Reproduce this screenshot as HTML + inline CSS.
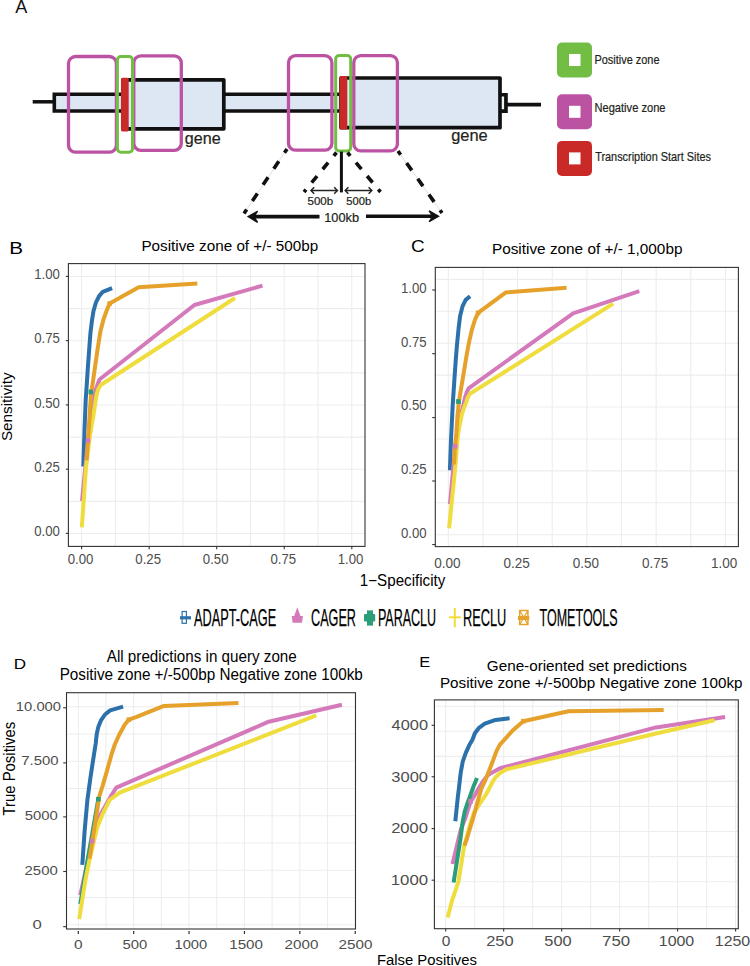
<!DOCTYPE html><html><head><meta charset="utf-8"><style>html,body{margin:0;padding:0;background:#fff;width:750px;height:966px;overflow:hidden}svg{display:block;font-family:"Liberation Sans",sans-serif}</style></head><body>
<svg width="750" height="966" viewBox="0 0 750 966">
<rect width="750" height="966" fill="#fff"/>
<text x="15.16" y="12.8" font-size="18" fill="#111" textLength="12.07" lengthAdjust="spacingAndGlyphs" >A</text>
<line x1="32.7" y1="101.8" x2="54" y2="101.8" stroke="#111111" stroke-width="3.5" />
<path d="M339,94.3 H54.3 V111 H339" fill="#dde7f3" stroke="#111111" stroke-width="3.6"/>
<rect x="122.8" y="79.8" width="101" height="49" fill="#dde7f3" stroke="#111111" stroke-width="3.7" stroke-linejoin="round"/>
<rect x="341" y="78" width="159" height="49.7" fill="#dde7f3" stroke="#111111" stroke-width="3.7" stroke-linejoin="round"/>
<rect x="501.9" y="96.6" width="2.3" height="13.1" fill="#eef3f9"/>
<path d="M500.5,94.75 H505.95 V111.15 H500.5" fill="none" stroke="#111111" stroke-width="3.7"/>
<line x1="506" y1="104.7" x2="541" y2="104.7" stroke="#111111" stroke-width="3.7" />
<rect x="121" y="77.8" width="7.7" height="53.6" rx="1.5" fill="#ca2a27"/>
<rect x="339.6" y="76" width="7.7" height="53.5" rx="1.5" fill="#ca2a27"/>
<rect x="68.5" y="56.5" width="47.900000000000006" height="95.69999999999999" rx="7" fill="none" stroke="#bb52a2" stroke-width="3.3"/>
<rect x="133.8" y="55.9" width="47.5" height="94.4" rx="7" fill="none" stroke="#bb52a2" stroke-width="3.3"/>
<rect x="117.4" y="56.5" width="15.099999999999994" height="95.80000000000001" rx="3.5" fill="none" stroke="#72be44" stroke-width="3"/>
<rect x="288.5" y="55.7" width="43.39999999999998" height="94.49999999999999" rx="7" fill="none" stroke="#bb52a2" stroke-width="3.3"/>
<rect x="353.8" y="55.6" width="43.599999999999966" height="95.30000000000001" rx="7" fill="none" stroke="#bb52a2" stroke-width="3.3"/>
<rect x="335.7" y="55.5" width="15.0" height="95.5" rx="3.5" fill="none" stroke="#72be44" stroke-width="3"/>
<text x="184.82" y="144" font-size="16.3" fill="#231f20" textLength="35.89" lengthAdjust="spacingAndGlyphs" stroke="#231f20" stroke-width="0.22">gene</text>
<text x="451.21" y="141" font-size="16.3" fill="#231f20" textLength="36.52" lengthAdjust="spacingAndGlyphs" stroke="#231f20" stroke-width="0.22">gene</text>
<line x1="287" y1="149" x2="244" y2="213.5" stroke="#c8c8c8" stroke-width="0.6" />
<line x1="287" y1="149" x2="244" y2="213.5" stroke="#111111" stroke-width="3.6" stroke-dasharray="9 10.3" stroke-dashoffset="4.5"/>
<line x1="398" y1="151" x2="442" y2="213" stroke="#c8c8c8" stroke-width="0.6" />
<line x1="398" y1="151" x2="442" y2="213" stroke="#111111" stroke-width="3.6" stroke-dasharray="9 10.3" stroke-dashoffset="4.5"/>
<line x1="336.5" y1="152.5" x2="304" y2="192" stroke="#111111" stroke-width="3.6" stroke-dasharray="8.5 8.9" stroke-dashoffset="4.2"/>
<line x1="347.5" y1="152.5" x2="380.5" y2="192" stroke="#111111" stroke-width="3.6" stroke-dasharray="8.5 8.9" stroke-dashoffset="4.2"/>
<line x1="341.4" y1="151.6" x2="341.4" y2="192.4" stroke="#111111" stroke-width="3" />
<line x1="311.2" y1="190.5" x2="337.2" y2="190.5" stroke="#222" stroke-width="1.5" />
<polyline points="314.2,187.3 311.0,190.5 314.2,193.7" fill="none" stroke="#222" stroke-width="1.5"/>
<polyline points="334.2,187.3 337.4,190.5 334.2,193.7" fill="none" stroke="#222" stroke-width="1.5"/>
<line x1="345.4" y1="190.5" x2="371.6" y2="190.5" stroke="#222" stroke-width="1.5" />
<polyline points="348.4,187.3 345.2,190.5 348.4,193.7" fill="none" stroke="#222" stroke-width="1.5"/>
<polyline points="368.6,187.3 371.8,190.5 368.6,193.7" fill="none" stroke="#222" stroke-width="1.5"/>
<text x="307.54" y="205" font-size="10.5" fill="#231f20" textLength="25.65" lengthAdjust="spacingAndGlyphs" stroke="#231f20" stroke-width="0.22">500b</text>
<text x="346.25" y="205" font-size="10.5" fill="#231f20" textLength="24.92" lengthAdjust="spacingAndGlyphs" stroke="#231f20" stroke-width="0.22">500b</text>
<line x1="253" y1="216.6" x2="319.5" y2="216.6" stroke="#111111" stroke-width="3.6" />
<path d="M248,216.6 L257.6,211.2 L254,216.6 L257.6,222.4 Z" fill="#111111" stroke="#111111" stroke-width="1.2" stroke-linejoin="miter"/>
<line x1="366" y1="216.2" x2="433" y2="216.2" stroke="#111111" stroke-width="3.6" />
<path d="M438.7,216.2 L429.1,210.8 L432.7,216.2 L429.1,221.8 Z" fill="#111111" stroke="#111111" stroke-width="1.2"/>
<text x="324.23" y="222" font-size="12.3" fill="#231f20" textLength="34.81" lengthAdjust="spacingAndGlyphs" stroke="#231f20" stroke-width="0.22">100kb</text>
<rect x="557" y="42.5" width="35" height="35" rx="5" fill="#72be44"/>
<rect x="569" y="54.0" width="11.5" height="12" fill="#fff"/>
<rect x="557" y="94.3" width="35" height="35" rx="5" fill="#bb52a2"/>
<rect x="569" y="105.8" width="11.5" height="12" fill="#fff"/>
<rect x="557" y="140.9" width="35" height="35" rx="5" fill="#ca2a27"/>
<rect x="569" y="152.4" width="11.5" height="12" fill="#fff"/>
<text x="594.50" y="64.3" font-size="13.2" fill="#231f20" textLength="64.98" lengthAdjust="spacingAndGlyphs" stroke="#231f20" stroke-width="0.22">Positive zone</text>
<text x="594.49" y="111.6" font-size="13.2" fill="#231f20" textLength="71.00" lengthAdjust="spacingAndGlyphs" stroke="#231f20" stroke-width="0.22">Negative zone</text>
<text x="595.16" y="160.8" font-size="13.2" fill="#231f20" textLength="115.84" lengthAdjust="spacingAndGlyphs" stroke="#231f20" stroke-width="0.22">Transcription Start Sites</text>
<text x="9.30" y="254" font-size="17.4" fill="#000" textLength="13.79" lengthAdjust="spacingAndGlyphs" >B</text>
<text x="141.45" y="250.5" font-size="15.5" fill="#000" textLength="176.79" lengthAdjust="spacingAndGlyphs" >Positive zone of +/- 500bp</text>
<rect x="68.4" y="263.6" width="296.6" height="282.79999999999995" fill="#fff"/>
<line x1="81.6" y1="263.6" x2="81.6" y2="546.4" stroke="#ededed" stroke-width="1.1" />
<line x1="115.37" y1="263.6" x2="115.37" y2="546.4" stroke="#ededed" stroke-width="1.1" />
<line x1="149.14" y1="263.6" x2="149.14" y2="546.4" stroke="#ededed" stroke-width="1.1" />
<line x1="182.91" y1="263.6" x2="182.91" y2="546.4" stroke="#ededed" stroke-width="1.1" />
<line x1="216.68" y1="263.6" x2="216.68" y2="546.4" stroke="#ededed" stroke-width="1.1" />
<line x1="250.45000000000002" y1="263.6" x2="250.45000000000002" y2="546.4" stroke="#ededed" stroke-width="1.1" />
<line x1="284.22" y1="263.6" x2="284.22" y2="546.4" stroke="#ededed" stroke-width="1.1" />
<line x1="317.99" y1="263.6" x2="317.99" y2="546.4" stroke="#ededed" stroke-width="1.1" />
<line x1="351.76" y1="263.6" x2="351.76" y2="546.4" stroke="#ededed" stroke-width="1.1" />
<line x1="68.4" y1="276.5" x2="365" y2="276.5" stroke="#ededed" stroke-width="1.1" />
<line x1="68.4" y1="308.62" x2="365" y2="308.62" stroke="#ededed" stroke-width="1.1" />
<line x1="68.4" y1="340.74" x2="365" y2="340.74" stroke="#ededed" stroke-width="1.1" />
<line x1="68.4" y1="372.86" x2="365" y2="372.86" stroke="#ededed" stroke-width="1.1" />
<line x1="68.4" y1="404.98" x2="365" y2="404.98" stroke="#ededed" stroke-width="1.1" />
<line x1="68.4" y1="437.1" x2="365" y2="437.1" stroke="#ededed" stroke-width="1.1" />
<line x1="68.4" y1="469.21999999999997" x2="365" y2="469.21999999999997" stroke="#ededed" stroke-width="1.1" />
<line x1="68.4" y1="501.34" x2="365" y2="501.34" stroke="#ededed" stroke-width="1.1" />
<line x1="68.4" y1="533.46" x2="365" y2="533.46" stroke="#ededed" stroke-width="1.1" />
<rect x="68.4" y="263.6" width="296.6" height="282.79999999999995" fill="none" stroke="#333333" stroke-width="1.1"/>
<line x1="65.8" y1="276.4" x2="68.4" y2="276.4" stroke="#333333" stroke-width="1.1" />
<text x="34.26" y="279.09999999999997" font-size="14.1" fill="#4d4d4d" textLength="25.66" lengthAdjust="spacingAndGlyphs" >1.00</text>
<line x1="65.8" y1="340.65" x2="68.4" y2="340.65" stroke="#333333" stroke-width="1.1" />
<text x="34.29" y="343.34999999999997" font-size="14.1" fill="#4d4d4d" textLength="25.66" lengthAdjust="spacingAndGlyphs" >0.75</text>
<line x1="65.8" y1="404.9" x2="68.4" y2="404.9" stroke="#333333" stroke-width="1.1" />
<text x="34.26" y="407.59999999999997" font-size="14.1" fill="#4d4d4d" textLength="25.66" lengthAdjust="spacingAndGlyphs" >0.50</text>
<line x1="65.8" y1="469.15" x2="68.4" y2="469.15" stroke="#333333" stroke-width="1.1" />
<text x="34.29" y="471.84999999999997" font-size="14.1" fill="#4d4d4d" textLength="25.66" lengthAdjust="spacingAndGlyphs" >0.25</text>
<line x1="65.8" y1="533.4" x2="68.4" y2="533.4" stroke="#333333" stroke-width="1.1" />
<text x="34.26" y="536.1" font-size="14.1" fill="#4d4d4d" textLength="25.66" lengthAdjust="spacingAndGlyphs" >0.00</text>
<line x1="81.6" y1="546.4" x2="81.6" y2="549.2" stroke="#333333" stroke-width="1.1" />
<text x="67.77" y="563.8" font-size="14.1" fill="#4d4d4d" textLength="25.66" lengthAdjust="spacingAndGlyphs" >0.00</text>
<line x1="149.14999999999998" y1="546.4" x2="149.14999999999998" y2="549.2" stroke="#333333" stroke-width="1.1" />
<text x="135.34" y="563.8" font-size="14.1" fill="#4d4d4d" textLength="25.66" lengthAdjust="spacingAndGlyphs" >0.25</text>
<line x1="216.7" y1="546.4" x2="216.7" y2="549.2" stroke="#333333" stroke-width="1.1" />
<text x="202.87" y="563.8" font-size="14.1" fill="#4d4d4d" textLength="25.66" lengthAdjust="spacingAndGlyphs" >0.50</text>
<line x1="284.25" y1="546.4" x2="284.25" y2="549.2" stroke="#333333" stroke-width="1.1" />
<text x="270.44" y="563.8" font-size="14.1" fill="#4d4d4d" textLength="25.66" lengthAdjust="spacingAndGlyphs" >0.75</text>
<line x1="351.79999999999995" y1="546.4" x2="351.79999999999995" y2="549.2" stroke="#333333" stroke-width="1.1" />
<text x="337.73" y="563.8" font-size="14.1" fill="#4d4d4d" textLength="25.66" lengthAdjust="spacingAndGlyphs" >1.00</text>
<text x="359.85" y="585.6" font-size="16.2" fill="#000" textLength="85.48" lengthAdjust="spacingAndGlyphs" >1−Specificity</text>
<text x="-0.69" y="0" font-size="15.5" fill="#000" textLength="68.72" lengthAdjust="spacingAndGlyphs" transform="translate(11.5,440.4) rotate(-90)">Sensitivity</text>
<polyline points="83.3,466.5 84.5,430 85.7,399.9 86.7,385.5 87.9,366.8 89.2,349.5 90.4,333.3 91.9,320.9 93.5,311 96,302.3 99.1,296.1 102.8,291.8 112.1,288.1" fill="none" stroke="#2c70ac" stroke-width="4.0" stroke-linejoin="round" />
<polyline points="82,501 88,440.4 92,410 95.7,389.7 97.7,384.3 99.5,379.5 194.4,305 262.5,285.7" fill="none" stroke="#d47abb" stroke-width="4.0" stroke-linejoin="round" />
<polyline points="90.9,394.5 90.9,389.5" fill="none" stroke="#2a9d7a" stroke-width="4.0" stroke-linejoin="round" />
<polyline points="81.8,527.3 86,467.7 89.3,440 91.7,425 93,418.3 95,405 96.7,394.3 98.3,389 100.7,385 235,298" fill="none" stroke="#efdd3e" stroke-width="4.0" stroke-linejoin="round" />
<polyline points="86.7,460.4 88.1,438.7 91,394.1 92.9,381.7 95.4,364.4 97.9,347 100.3,332.1 103.4,319.7 106.5,311 109.6,303.6 138.7,287.2 197.3,283.4" fill="none" stroke="#e5a12a" stroke-width="4.0" stroke-linejoin="round" />
<rect x="85.7" y="438.09999999999997" width="4.6" height="4.6" fill="#d47abb"/>
<rect x="88.60000000000001" y="389.7" width="4.6" height="4.6" fill="#2a9d7a"/>
<rect x="107.3" y="301.3" width="4.6" height="4.6" fill="#e5a12a"/>
<text x="411.04" y="252" font-size="17.4" fill="#000" textLength="13.68" lengthAdjust="spacingAndGlyphs" >C</text>
<text x="491.94" y="253.5" font-size="15.5" fill="#000" textLength="190.50" lengthAdjust="spacingAndGlyphs" >Positive zone of +/- 1,000bp</text>
<rect x="435.3" y="267.4" width="303.09999999999997" height="279.20000000000005" fill="#fff"/>
<line x1="448.3" y1="267.4" x2="448.3" y2="546.6" stroke="#ededed" stroke-width="1.1" />
<line x1="482.94" y1="267.4" x2="482.94" y2="546.6" stroke="#ededed" stroke-width="1.1" />
<line x1="517.58" y1="267.4" x2="517.58" y2="546.6" stroke="#ededed" stroke-width="1.1" />
<line x1="552.22" y1="267.4" x2="552.22" y2="546.6" stroke="#ededed" stroke-width="1.1" />
<line x1="586.86" y1="267.4" x2="586.86" y2="546.6" stroke="#ededed" stroke-width="1.1" />
<line x1="621.5" y1="267.4" x2="621.5" y2="546.6" stroke="#ededed" stroke-width="1.1" />
<line x1="656.14" y1="267.4" x2="656.14" y2="546.6" stroke="#ededed" stroke-width="1.1" />
<line x1="690.78" y1="267.4" x2="690.78" y2="546.6" stroke="#ededed" stroke-width="1.1" />
<line x1="725.4200000000001" y1="267.4" x2="725.4200000000001" y2="546.6" stroke="#ededed" stroke-width="1.1" />
<line x1="435.3" y1="279.4" x2="738.4" y2="279.4" stroke="#ededed" stroke-width="1.1" />
<line x1="435.3" y1="311.31" x2="738.4" y2="311.31" stroke="#ededed" stroke-width="1.1" />
<line x1="435.3" y1="343.21999999999997" x2="738.4" y2="343.21999999999997" stroke="#ededed" stroke-width="1.1" />
<line x1="435.3" y1="375.13" x2="738.4" y2="375.13" stroke="#ededed" stroke-width="1.1" />
<line x1="435.3" y1="407.03999999999996" x2="738.4" y2="407.03999999999996" stroke="#ededed" stroke-width="1.1" />
<line x1="435.3" y1="438.95" x2="738.4" y2="438.95" stroke="#ededed" stroke-width="1.1" />
<line x1="435.3" y1="470.86" x2="738.4" y2="470.86" stroke="#ededed" stroke-width="1.1" />
<line x1="435.3" y1="502.77" x2="738.4" y2="502.77" stroke="#ededed" stroke-width="1.1" />
<line x1="435.3" y1="534.68" x2="738.4" y2="534.68" stroke="#ededed" stroke-width="1.1" />
<rect x="435.3" y="267.4" width="303.09999999999997" height="279.20000000000005" fill="none" stroke="#333333" stroke-width="1.1"/>
<line x1="432.2" y1="290.0" x2="435.3" y2="290.0" stroke="#333333" stroke-width="1.1" />
<text x="400.96" y="293.1" font-size="14.1" fill="#4d4d4d" textLength="25.66" lengthAdjust="spacingAndGlyphs" >1.00</text>
<line x1="432.2" y1="353.7" x2="435.3" y2="353.7" stroke="#333333" stroke-width="1.1" />
<text x="400.99" y="346.7" font-size="14.1" fill="#4d4d4d" textLength="25.66" lengthAdjust="spacingAndGlyphs" >0.75</text>
<line x1="432.2" y1="417.6" x2="435.3" y2="417.6" stroke="#333333" stroke-width="1.1" />
<text x="400.96" y="410.3" font-size="14.1" fill="#4d4d4d" textLength="25.66" lengthAdjust="spacingAndGlyphs" >0.50</text>
<line x1="432.2" y1="481.0" x2="435.3" y2="481.0" stroke="#333333" stroke-width="1.1" />
<text x="400.99" y="473.9" font-size="14.1" fill="#4d4d4d" textLength="25.66" lengthAdjust="spacingAndGlyphs" >0.25</text>
<line x1="432.2" y1="544.6" x2="435.3" y2="544.6" stroke="#333333" stroke-width="1.1" />
<text x="400.96" y="537.5" font-size="14.1" fill="#4d4d4d" textLength="25.66" lengthAdjust="spacingAndGlyphs" >0.00</text>
<text x="434.13" y="567.5" font-size="14.1" fill="#4d4d4d" textLength="26.34" lengthAdjust="spacingAndGlyphs" >0.00</text>
<text x="503.43" y="567.5" font-size="14.1" fill="#4d4d4d" textLength="26.34" lengthAdjust="spacingAndGlyphs" >0.25</text>
<text x="572.69" y="567.5" font-size="14.1" fill="#4d4d4d" textLength="26.34" lengthAdjust="spacingAndGlyphs" >0.50</text>
<text x="641.99" y="567.5" font-size="14.1" fill="#4d4d4d" textLength="26.34" lengthAdjust="spacingAndGlyphs" >0.75</text>
<text x="711.00" y="567.5" font-size="14.1" fill="#4d4d4d" textLength="26.34" lengthAdjust="spacingAndGlyphs" >1.00</text>
<polyline points="449.9,470.3 451,440 452.7,404.9 454.5,378 455.8,359.4 457,344.6 458.6,328.4 460.1,316 462.6,306.1 465.7,299.9 470.1,296.2" fill="none" stroke="#2c70ac" stroke-width="4.0" stroke-linejoin="round" />
<polyline points="450,504.2 455.2,446.3 460,420 465,397.7 467,391.7 468.6,388.3 573.1,313.3 639.3,291.1" fill="none" stroke="#d47abb" stroke-width="4.0" stroke-linejoin="round" />
<polyline points="458.5,404 458.5,399" fill="none" stroke="#2a9d7a" stroke-width="4.0" stroke-linejoin="round" />
<polyline points="449.1,528.2 455,470 458,435 459,428.3 461.7,415 464.3,407 466,403 468,397 470.3,393.5 613.2,303.6" fill="none" stroke="#efdd3e" stroke-width="4.0" stroke-linejoin="round" />
<polyline points="454,464.5 454.9,446.3 456.3,435 457.3,418.3 458.9,401.6 461.4,386.7 463.9,371.8 466.3,357 468.8,343.3 471.9,329.7 475,319.7 478.1,312.9 505.9,292.4 566.6,287.7" fill="none" stroke="#e5a12a" stroke-width="4.0" stroke-linejoin="round" />
<rect x="452.9" y="444.0" width="4.6" height="4.6" fill="#d47abb"/>
<rect x="456.2" y="399.3" width="4.6" height="4.6" fill="#2a9d7a"/>
<rect x="475.8" y="310.59999999999997" width="4.6" height="4.6" fill="#e5a12a"/>
<text x="194.08" y="625.7" font-size="23.8" fill="#000" textLength="82.07" lengthAdjust="spacingAndGlyphs" stroke="#000" stroke-width="0.25">ADAPT-CAGE</text>
<text x="311.06" y="625.7" font-size="23.8" fill="#000" textLength="44.93" lengthAdjust="spacingAndGlyphs" stroke="#000" stroke-width="0.25">CAGER</text>
<text x="377.89" y="625.7" font-size="23.8" fill="#000" textLength="58.26" lengthAdjust="spacingAndGlyphs" stroke="#000" stroke-width="0.25">PARACLU</text>
<text x="462.95" y="625.7" font-size="23.8" fill="#000" textLength="43.34" lengthAdjust="spacingAndGlyphs" stroke="#000" stroke-width="0.25">RECLU</text>
<text x="539.52" y="625.7" font-size="23.8" fill="#000" textLength="78.15" lengthAdjust="spacingAndGlyphs" stroke="#000" stroke-width="0.25">TOMETOOLS</text>
<rect x="182.1" y="611.5" width="4.3" height="11.8" fill="none" stroke="#2c70ac" stroke-width="1.2"/>
<rect x="180" y="616.2" width="11" height="3.2" fill="#2c70ac"/>
<path d="M297.3,607.3 L300.5,616 H303 L302,622.7 H292.6 L291.7,616 H294.2 Z" fill="#d47abb"/>
<rect x="367" y="610.4" width="6" height="15.2" fill="#2a9d7a"/><rect x="364" y="614" width="11.2" height="7.5" rx="1" fill="#2a9d7a"/>
<rect x="453.8" y="608" width="2" height="19.2" fill="#efdd3e"/><rect x="448.8" y="616.3" width="12" height="2" fill="#efdd3e"/>
<rect x="519.7" y="610.5" width="8.2" height="14" fill="none" stroke="#e5a12a" stroke-width="1.5"/>
<path d="M519.7,610.5 L527.9,624.5 M527.9,610.5 L519.7,624.5" stroke="#e5a12a" stroke-width="1.3"/>
<rect x="518" y="616" width="11.3" height="4" fill="#e5a12a"/>
<text x="13.80" y="669.1" font-size="14.7" fill="#000" textLength="12.31" lengthAdjust="spacingAndGlyphs" >D</text>
<text x="106.77" y="662" font-size="15.6" fill="#000" textLength="190.00" lengthAdjust="spacingAndGlyphs" >All predictions in query zone</text>
<text x="59.65" y="680.4" font-size="15.6" fill="#000" textLength="303.19" lengthAdjust="spacingAndGlyphs" >Positive zone +/-500bp Negative zone 100kb</text>
<rect x="66.5" y="692.7" width="289.0" height="236.29999999999995" fill="#fff"/>
<line x1="78.3" y1="692.7" x2="78.3" y2="929" stroke="#ededed" stroke-width="1.1" />
<line x1="105.99" y1="692.7" x2="105.99" y2="929" stroke="#ededed" stroke-width="1.1" />
<line x1="133.68" y1="692.7" x2="133.68" y2="929" stroke="#ededed" stroke-width="1.1" />
<line x1="161.37" y1="692.7" x2="161.37" y2="929" stroke="#ededed" stroke-width="1.1" />
<line x1="189.06" y1="692.7" x2="189.06" y2="929" stroke="#ededed" stroke-width="1.1" />
<line x1="216.75" y1="692.7" x2="216.75" y2="929" stroke="#ededed" stroke-width="1.1" />
<line x1="244.44" y1="692.7" x2="244.44" y2="929" stroke="#ededed" stroke-width="1.1" />
<line x1="272.13" y1="692.7" x2="272.13" y2="929" stroke="#ededed" stroke-width="1.1" />
<line x1="299.82" y1="692.7" x2="299.82" y2="929" stroke="#ededed" stroke-width="1.1" />
<line x1="327.51" y1="692.7" x2="327.51" y2="929" stroke="#ededed" stroke-width="1.1" />
<line x1="355.20000000000005" y1="692.7" x2="355.20000000000005" y2="929" stroke="#ededed" stroke-width="1.1" />
<line x1="66.5" y1="706.8" x2="355.5" y2="706.8" stroke="#ededed" stroke-width="1.1" />
<line x1="66.5" y1="734.05" x2="355.5" y2="734.05" stroke="#ededed" stroke-width="1.1" />
<line x1="66.5" y1="761.3" x2="355.5" y2="761.3" stroke="#ededed" stroke-width="1.1" />
<line x1="66.5" y1="788.55" x2="355.5" y2="788.55" stroke="#ededed" stroke-width="1.1" />
<line x1="66.5" y1="815.8" x2="355.5" y2="815.8" stroke="#ededed" stroke-width="1.1" />
<line x1="66.5" y1="843.05" x2="355.5" y2="843.05" stroke="#ededed" stroke-width="1.1" />
<line x1="66.5" y1="870.3" x2="355.5" y2="870.3" stroke="#ededed" stroke-width="1.1" />
<line x1="66.5" y1="897.55" x2="355.5" y2="897.55" stroke="#ededed" stroke-width="1.1" />
<line x1="66.5" y1="924.8" x2="355.5" y2="924.8" stroke="#ededed" stroke-width="1.1" />
<rect x="66.5" y="692.7" width="289.0" height="236.29999999999995" fill="none" stroke="#333333" stroke-width="1.1"/>
<line x1="63.2" y1="707.8" x2="66.5" y2="707.8" stroke="#333333" stroke-width="1.1" />
<text x="15.87" y="710.5" font-size="13.2" fill="#4d4d4d" textLength="45.20" lengthAdjust="spacingAndGlyphs" >10.000</text>
<line x1="63.2" y1="762.9" x2="66.5" y2="762.9" stroke="#333333" stroke-width="1.1" />
<text x="21.23" y="765.1999999999999" font-size="13.2" fill="#4d4d4d" textLength="37.35" lengthAdjust="spacingAndGlyphs" >7.500</text>
<line x1="63.2" y1="816.9" x2="66.5" y2="816.9" stroke="#333333" stroke-width="1.1" />
<text x="24.70" y="820.0" font-size="13.2" fill="#4d4d4d" textLength="33.08" lengthAdjust="spacingAndGlyphs" >5000</text>
<line x1="63.2" y1="871.5" x2="66.5" y2="871.5" stroke="#333333" stroke-width="1.1" />
<text x="24.55" y="874.5999999999999" font-size="13.2" fill="#4d4d4d" textLength="33.23" lengthAdjust="spacingAndGlyphs" >2500</text>
<line x1="63.2" y1="926.7" x2="66.5" y2="926.7" stroke="#333333" stroke-width="1.1" />
<text x="32.55" y="928.5999999999999" font-size="13.2" fill="#4d4d4d" textLength="9.31" lengthAdjust="spacingAndGlyphs" >0</text>
<line x1="78.3" y1="931" x2="78.3" y2="934" stroke="#333333" stroke-width="1.2" />
<text x="74.00" y="948.8" font-size="13.2" fill="#4d4d4d" textLength="8.61" lengthAdjust="spacingAndGlyphs" >0</text>
<line x1="133.68" y1="931" x2="133.68" y2="934" stroke="#333333" stroke-width="1.2" />
<text x="122.41" y="948.8" font-size="13.2" fill="#4d4d4d" textLength="24.77" lengthAdjust="spacingAndGlyphs" >500</text>
<line x1="189.06" y1="931" x2="189.06" y2="934" stroke="#333333" stroke-width="1.2" />
<text x="174.48" y="948.8" font-size="13.2" fill="#4d4d4d" textLength="32.69" lengthAdjust="spacingAndGlyphs" >1000</text>
<line x1="244.44" y1="931" x2="244.44" y2="934" stroke="#333333" stroke-width="1.2" />
<text x="229.24" y="948.8" font-size="13.2" fill="#4d4d4d" textLength="33.75" lengthAdjust="spacingAndGlyphs" >1500</text>
<line x1="299.82" y1="931" x2="299.82" y2="934" stroke="#333333" stroke-width="1.2" />
<text x="284.64" y="948.8" font-size="13.2" fill="#4d4d4d" textLength="33.76" lengthAdjust="spacingAndGlyphs" >2000</text>
<line x1="355.20000000000005" y1="931" x2="355.20000000000005" y2="934" stroke="#333333" stroke-width="1.2" />
<text x="338.43" y="948.8" font-size="13.2" fill="#4d4d4d" textLength="33.96" lengthAdjust="spacingAndGlyphs" >2500</text>
<text x="-0.33" y="0" font-size="15.8" fill="#000" textLength="93.77" lengthAdjust="spacingAndGlyphs" transform="translate(14.8,815.2) rotate(-90)">True Positives</text>
<polyline points="82.3,864.9 84.7,830 87.4,800 90,780.7 92,767.3 94.1,753.8 95.7,743.5 96.7,734.2 98.3,726.9 100.8,720.7 105,714.5 110.2,710.4 123.1,706.7" fill="none" stroke="#2c70ac" stroke-width="4.0" stroke-linejoin="round" />
<polyline points="80.3,895.1 92.1,841 97.8,819.3 111,796 116.3,787.7 268.7,721.7 341.9,704.7" fill="none" stroke="#d47abb" stroke-width="4.0" stroke-linejoin="round" />
<polyline points="80.3,904.1 87.5,860.7 98.3,799.2" fill="none" stroke="#2a9d7a" stroke-width="4.0" stroke-linejoin="round" />
<polyline points="79.2,919.1 85.4,880 89.5,859.7 97,828 103,813.3 109.7,800 119.7,792.7 316.3,715.4" fill="none" stroke="#efdd3e" stroke-width="4.0" stroke-linejoin="round" />
<polyline points="89.5,858.7 92.1,842.1 94.7,826.6 99.3,796.3 102.9,784.9 107.1,770.4 111.7,753.8 114.8,744.5 119.5,734.2 124.7,724.8 128.8,719.7 136,717.1 164,705.9 238.5,702.9" fill="none" stroke="#e5a12a" stroke-width="4.0" stroke-linejoin="round" />
<rect x="89.8" y="838.7" width="4.6" height="4.6" fill="#d47abb"/>
<rect x="96.0" y="796.9000000000001" width="4.6" height="4.6" fill="#2a9d7a"/>
<rect x="126.50000000000001" y="717.4000000000001" width="4.6" height="4.6" fill="#e5a12a"/>
<text x="419.25" y="667.4" font-size="14.7" fill="#000" textLength="10.95" lengthAdjust="spacingAndGlyphs" >E</text>
<text x="486.83" y="670.6" font-size="15.4" fill="#000" textLength="199.92" lengthAdjust="spacingAndGlyphs" >Gene-oriented set predictions</text>
<text x="439.95" y="688.2" font-size="15.4" fill="#000" textLength="302.59" lengthAdjust="spacingAndGlyphs" >Positive zone +/-500bp Negative zone 100kp</text>
<rect x="434.4" y="699.9" width="303.9" height="228.80000000000007" fill="#fff"/>
<line x1="445.7" y1="699.9" x2="445.7" y2="928.7" stroke="#ededed" stroke-width="1.1" />
<line x1="474.69" y1="699.9" x2="474.69" y2="928.7" stroke="#ededed" stroke-width="1.1" />
<line x1="503.68" y1="699.9" x2="503.68" y2="928.7" stroke="#ededed" stroke-width="1.1" />
<line x1="532.67" y1="699.9" x2="532.67" y2="928.7" stroke="#ededed" stroke-width="1.1" />
<line x1="561.66" y1="699.9" x2="561.66" y2="928.7" stroke="#ededed" stroke-width="1.1" />
<line x1="590.65" y1="699.9" x2="590.65" y2="928.7" stroke="#ededed" stroke-width="1.1" />
<line x1="619.64" y1="699.9" x2="619.64" y2="928.7" stroke="#ededed" stroke-width="1.1" />
<line x1="648.63" y1="699.9" x2="648.63" y2="928.7" stroke="#ededed" stroke-width="1.1" />
<line x1="677.62" y1="699.9" x2="677.62" y2="928.7" stroke="#ededed" stroke-width="1.1" />
<line x1="706.6099999999999" y1="699.9" x2="706.6099999999999" y2="928.7" stroke="#ededed" stroke-width="1.1" />
<line x1="735.5999999999999" y1="699.9" x2="735.5999999999999" y2="928.7" stroke="#ededed" stroke-width="1.1" />
<line x1="434.4" y1="706.2" x2="738.3" y2="706.2" stroke="#ededed" stroke-width="1.1" />
<line x1="434.4" y1="731.2700000000001" x2="738.3" y2="731.2700000000001" stroke="#ededed" stroke-width="1.1" />
<line x1="434.4" y1="756.34" x2="738.3" y2="756.34" stroke="#ededed" stroke-width="1.1" />
<line x1="434.4" y1="781.4100000000001" x2="738.3" y2="781.4100000000001" stroke="#ededed" stroke-width="1.1" />
<line x1="434.4" y1="806.48" x2="738.3" y2="806.48" stroke="#ededed" stroke-width="1.1" />
<line x1="434.4" y1="831.5500000000001" x2="738.3" y2="831.5500000000001" stroke="#ededed" stroke-width="1.1" />
<line x1="434.4" y1="856.6200000000001" x2="738.3" y2="856.6200000000001" stroke="#ededed" stroke-width="1.1" />
<line x1="434.4" y1="881.69" x2="738.3" y2="881.69" stroke="#ededed" stroke-width="1.1" />
<line x1="434.4" y1="906.76" x2="738.3" y2="906.76" stroke="#ededed" stroke-width="1.1" />
<rect x="434.4" y="699.9" width="303.9" height="228.80000000000007" fill="none" stroke="#333333" stroke-width="1.1"/>
<line x1="431.6" y1="725.3" x2="434.4" y2="725.3" stroke="#333333" stroke-width="1.1" />
<text x="391.62" y="730.0999999999999" font-size="14.4" fill="#4d4d4d" textLength="36.42" lengthAdjust="spacingAndGlyphs" >4000</text>
<line x1="431.6" y1="776.8" x2="434.4" y2="776.8" stroke="#333333" stroke-width="1.1" />
<text x="391.37" y="781.5999999999999" font-size="14.4" fill="#4d4d4d" textLength="36.67" lengthAdjust="spacingAndGlyphs" >3000</text>
<line x1="431.6" y1="828.6" x2="434.4" y2="828.6" stroke="#333333" stroke-width="1.1" />
<text x="391.17" y="833.4" font-size="14.4" fill="#4d4d4d" textLength="36.88" lengthAdjust="spacingAndGlyphs" >2000</text>
<line x1="431.6" y1="880.2" x2="434.4" y2="880.2" stroke="#333333" stroke-width="1.1" />
<text x="390.72" y="885.0" font-size="14.4" fill="#4d4d4d" textLength="37.33" lengthAdjust="spacingAndGlyphs" >1000</text>
<line x1="445.7" y1="928.7" x2="445.7" y2="931.5" stroke="#333333" stroke-width="1.1" />
<text x="441.70" y="945.8" font-size="14.2" fill="#4d4d4d" textLength="8.61" lengthAdjust="spacingAndGlyphs" >0</text>
<line x1="503.68" y1="928.7" x2="503.68" y2="931.5" stroke="#333333" stroke-width="1.1" />
<text x="486.17" y="945.8" font-size="14.2" fill="#4d4d4d" textLength="27.47" lengthAdjust="spacingAndGlyphs" >250</text>
<line x1="561.66" y1="928.7" x2="561.66" y2="931.5" stroke="#333333" stroke-width="1.1" />
<text x="544.35" y="945.8" font-size="14.2" fill="#4d4d4d" textLength="27.29" lengthAdjust="spacingAndGlyphs" >500</text>
<line x1="619.64" y1="928.7" x2="619.64" y2="931.5" stroke="#333333" stroke-width="1.1" />
<text x="602.14" y="945.8" font-size="14.2" fill="#4d4d4d" textLength="28.12" lengthAdjust="spacingAndGlyphs" >750</text>
<line x1="677.62" y1="928.7" x2="677.62" y2="931.5" stroke="#333333" stroke-width="1.1" />
<text x="658.79" y="945.8" font-size="14.2" fill="#4d4d4d" textLength="35.44" lengthAdjust="spacingAndGlyphs" >1000</text>
<line x1="735.5999999999999" y1="928.7" x2="735.5999999999999" y2="931.5" stroke="#333333" stroke-width="1.1" />
<text x="714.79" y="945.8" font-size="14.2" fill="#4d4d4d" textLength="35.44" lengthAdjust="spacingAndGlyphs" >1250</text>
<text x="376.88" y="964.8" font-size="15.2" fill="#000" textLength="99.96" lengthAdjust="spacingAndGlyphs" >False Positives</text>
<polyline points="455.3,821.3 457.8,797.3 458.7,790 460.8,772.1 462.8,761.4 465.7,753.1 469.1,745.6 472.4,739.8 474.9,733.2 479,727.8 484.8,723.7 495.6,719.9 509.6,718.2" fill="none" stroke="#2c70ac" stroke-width="4.0" stroke-linejoin="round" />
<polyline points="452.5,864 460.8,829.5 465.3,818.3 467.3,811.7 470.7,801.3 475.3,794.3 478.7,788.3 482.7,781.7 488,775 490,773.7 500,768.3 510,765.7 656,727.4 725.1,717.1" fill="none" stroke="#d47abb" stroke-width="4.0" stroke-linejoin="round" />
<polyline points="453.6,882.5 460.3,840 462.7,821.7 464.7,811.7 467.3,803.7 470,796.3 473.3,787 477,778" fill="none" stroke="#2a9d7a" stroke-width="4.0" stroke-linejoin="round" />
<polyline points="447.7,917.6 451.9,901 458.4,881.9 464,847 467.8,833 470.8,822 474,812.5 477.3,807.7 480.7,802.3 485.3,795.7 489.3,788.3 492.7,781.7 495.3,777.7 500,773 506.7,769.3 656,733.5 714.5,720.2" fill="none" stroke="#efdd3e" stroke-width="4.0" stroke-linejoin="round" />
<polyline points="464.4,845.6 466.5,840 471,825 472.7,819.7 475.3,810.3 478,800.3 481.4,788.5 484.7,781.7 487.5,774.8 491.7,764 496.4,751.4 499.7,744.8 512.1,731.1 523.3,721.2 568.4,711.3 663.7,709.9" fill="none" stroke="#e5a12a" stroke-width="4.0" stroke-linejoin="round" />
<rect x="468.4" y="799.0" width="4.6" height="4.6" fill="#d47abb"/>
<rect x="521.0" y="718.9000000000001" width="4.6" height="4.6" fill="#e5a12a"/>
</svg></body></html>
